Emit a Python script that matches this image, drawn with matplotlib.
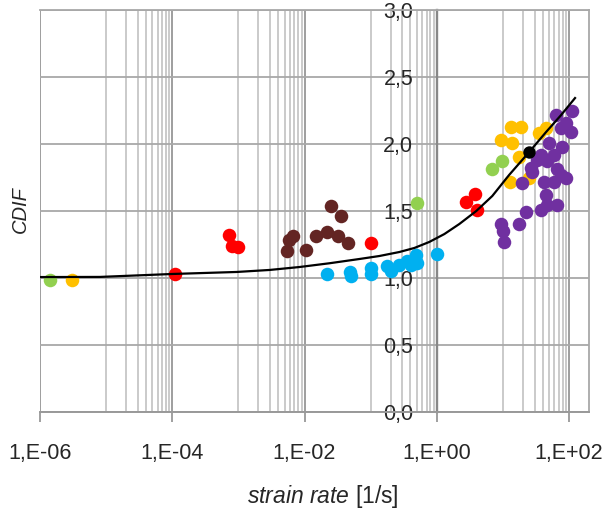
import matplotlib
matplotlib.use('Agg')
import matplotlib.pyplot as plt
from matplotlib.ticker import FixedLocator, FuncFormatter, NullFormatter

# Measured CDIF values, grouped by test series
green_x = [1.4e-6, 0.51, 6.9, 9.8]
green_y = [0.985, 1.56, 1.81, 1.87]

orange_x = [3.0e-6, 13.3, 18.8, 9.4, 13.8, 17.6, 35.2, 45.0, 12.9, 24.9]
orange_y = [0.985, 2.13, 2.13, 2.03, 2.01, 1.90, 2.08, 2.12, 1.72, 1.75]

red_x = [1.1e-4, 7.1e-4, 7.9e-4, 1.0e-3, 0.10, 2.8, 3.8, 4.0]
red_y = [1.03, 1.32, 1.24, 1.23, 1.26, 1.57, 1.63, 1.51]

brown_x = [5.4e-3, 5.8e-3, 6.6e-3, 1.04e-2, 1.48e-2, 2.15e-2, 2.55e-2,
           3.2e-2, 3.6e-2, 4.6e-2]
brown_y = [1.20, 1.28, 1.31, 1.21, 1.31, 1.34, 1.54, 1.31, 1.46, 1.26]

blue_x = [0.0215, 0.049, 0.051, 0.100, 0.100, 0.179, 0.206, 0.27, 0.35,
          0.41, 0.49, 0.51, 1.0]
blue_y = [1.03, 1.045, 1.015, 1.075, 1.03, 1.09, 1.05, 1.10, 1.13,
          1.10, 1.17, 1.11, 1.18]

purple_x = [9.4, 10.1, 10.4, 17.6, 22.4, 19.5, 27.7, 37.8, 45.0, 46.6,
            65.9, 42.0, 59.4, 75.7, 90.0, 26.7, 32.9, 46.6, 65.9, 37.8,
            59.4, 49.9, 78.4, 63.7, 111.0, 90.0, 107.0, 75.7]
purple_y = [1.40, 1.35, 1.27, 1.40, 1.49, 1.71, 1.79, 1.51, 1.62, 1.545,
            1.545, 1.72, 1.72, 1.77, 1.75, 1.82, 1.88, 1.87, 1.81, 1.92,
            1.92, 2.01, 1.98, 2.22, 2.25, 2.16, 2.09, 2.12]

black_x = [24.9]
black_y = [1.94]

# Model curve
curve_x = [1e-6, 8.05e-6, 1e-4, 9.4e-4, 2.96e-3, 8.4e-3, 0.0238, 0.068,
           0.135, 0.272, 0.457, 0.77, 1.30, 2.19, 3.95, 6.9, 12.4, 24.9,
           45.0, 75.7, 123.0]
curve_y = [1.007, 1.008, 1.03, 1.045, 1.06, 1.082, 1.11, 1.142,
           1.164, 1.194, 1.224, 1.269, 1.328, 1.403, 1.50, 1.612, 1.769,
           1.94, 2.09, 2.216, 2.343]

x_major = [1e-6, 1e-4, 1e-2, 1e0, 1e2]
x_labels = ['1,E-06', '1,E-04', '1,E-02', '1,E+00', '1,E+02']
y_ticks = [0.0, 0.5, 1.0, 1.5, 2.0, 2.5, 3.0]

plt.rcParams['font.family'] = ['Liberation Sans', 'DejaVu Sans']
plt.rcParams['mathtext.fontset'] = 'custom'
plt.rcParams['mathtext.it'] = 'Liberation Sans:italic'
plt.rcParams['mathtext.rm'] = 'Liberation Sans'

fig = plt.figure(figsize=(6.05, 5.14), dpi=100)
ax = fig.add_axes([40 / 605, 1 - 412 / 514, 549 / 605, 402 / 514])

ax.set_xscale('log')
ax.set_xlim(1e-6, 2e2)
ax.set_ylim(0, 3)

# grid: every decade plus linear steps inside each two-decade span
x_minor = [k * 10.0 ** n for n in (-5, -3, -1, 1) for k in range(1, 10)]
ax.xaxis.set_major_locator(FixedLocator(x_major))
ax.xaxis.set_minor_locator(FixedLocator(x_minor))
ax.xaxis.set_minor_formatter(NullFormatter())
ax.set_xticklabels(x_labels)
ax.yaxis.set_major_locator(FixedLocator(y_ticks))
ax.yaxis.set_major_formatter(FuncFormatter(lambda v, p: ('%.1f' % v).replace('.', ',')))

ax.grid(True, which='major', axis='x', color='#9e9e9e', lw=1.4, zorder=0)
ax.grid(True, which='minor', axis='x', color='#bcbcbc', lw=1.1, zorder=0)
ax.grid(True, which='major', axis='y', color='#a8a8a8', lw=1.3, zorder=0)
ax.set_axisbelow(True)

# vertical axis crosses at 1/s
ax.spines['left'].set_position(('data', 1.0))
ax.spines['left'].set_color('#888888')
ax.spines['left'].set_linewidth(1.7)
ax.spines['bottom'].set_color('#999999')
ax.spines['bottom'].set_linewidth(1.4)
for side in ['top', 'right']:
    ax.spines[side].set_color('#a8a8a8')
    ax.spines[side].set_linewidth(1.3)

ax.tick_params(axis='x', which='major', length=7, width=1.3, color='#999999',
               pad=15, labelsize=15.5, labelcolor='#262626')
ax.tick_params(axis='x', which='minor', length=0)
ax.tick_params(axis='y', length=0, pad=17, labelsize=15.5, labelcolor='#262626')

size = 95
ax.scatter(green_x, green_y, s=size, color='#92d050', lw=0, zorder=3)
ax.scatter(orange_x, orange_y, s=size, color='#ffc000', lw=0, zorder=3)
ax.scatter(red_x, red_y, s=size, color='#ff0000', lw=0, zorder=3)
ax.scatter(brown_x, brown_y, s=size, color='#632523', lw=0, zorder=3)
ax.scatter(blue_x, blue_y, s=size, color='#00b0f0', lw=0, zorder=3)
ax.scatter(purple_x, purple_y, s=size, color='#7030a0', lw=0, zorder=3)
ax.plot(curve_x, curve_y, color='black', lw=1.6, zorder=4)
ax.scatter(black_x, black_y, s=80, color='black', lw=0, zorder=5)

fig.text(20 / 605, 1 - 210 / 514, 'CDIF', rotation=90, style='italic',
         fontsize=14.5, ha='center', va='center', color='#262626')
fig.text(323 / 605, 1 - 497 / 514, r'$\it{strain\ rate}$ [1/s]',
         fontsize=16.5, ha='center', va='center', color='#262626')

fig.savefig('out.png', dpi=100)
